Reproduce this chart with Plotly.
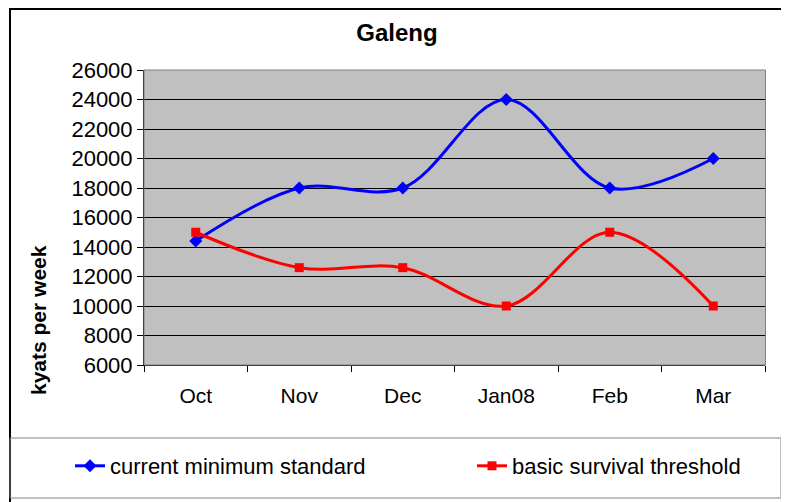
import plotly.graph_objects as go

months = ["Oct", "Nov", "Dec", "Jan08", "Feb", "Mar"]
current_min = [14400, 18000, 18000, 24000, 18000, 20000]
survival = [15000, 12600, 12600, 10000, 15000, 10000]
y_ticks = list(range(6000, 26001, 2000))

font = "Liberation Sans, Arial, sans-serif"

# page is drawn with the browser's 8px body margin, so work in figure coords
W, H = 781, 494
L, R, T, B = 136, 757, 62, 357  # plot area edges inside the figure

fig = go.Figure()
fig.add_trace(go.Scatter(
    x=months, y=current_min, name="current minimum standard", legend="legend",
    mode="lines+markers", line=dict(color="#0000FF", width=3, shape="spline", smoothing=1),
    marker=dict(symbol="diamond", size=10, color="#0000FF"),
))
fig.add_trace(go.Scatter(
    x=months, y=survival, name="basic survival threshold", legend="legend2",
    mode="lines+markers", line=dict(color="#FF0000", width=3, shape="spline", smoothing=1),
    marker=dict(symbol="square", size=9, color="#FF0000"),
))

fig.update_layout(
    width=W, height=H,
    paper_bgcolor="white", plot_bgcolor="#C0C0C0",
    margin=dict(l=L, r=W - R, t=T, b=H - B),
    font=dict(family=font, size=21, color="black"),
    title=dict(text="<b>Galeng</b>", x=389 / W, xref="container", xanchor="center",
               y=1 - 25 / H, yanchor="middle", font=dict(size=24)),
    showlegend=True,
    legend=dict(orientation="h", xref="container", yref="container",
                x=62 / W, y=1 - 458 / H, xanchor="left", yanchor="middle",
                font=dict(size=22), bgcolor="rgba(0,0,0,0)"),
    legend2=dict(orientation="h", xref="container", yref="container",
                 x=464 / W, y=1 - 458 / H, xanchor="left", yanchor="middle",
                 font=dict(size=22), bgcolor="rgba(0,0,0,0)"),
)
fig.update_xaxes(
    type="category", range=[-0.5, 5.5], showgrid=False,
    showline=True, linecolor="black", linewidth=1,
    ticks="outside", tickson="boundaries", ticklen=6, tickcolor="black",
    tickfont=dict(size=21), ticklabelstandoff=12,
)
fig.update_yaxes(
    range=[6000, 26000], tickvals=y_ticks, tickformat="d",
    showgrid=True, gridcolor="black", gridwidth=1,
    showline=True, linecolor="black", linewidth=1,
    ticks="outside", ticklen=6, tickcolor="black", tickfont=dict(size=22),
    zeroline=False,
)

# Excel places the axis title below the middle of the plot area
fig.add_annotation(text="<b>kyats per week</b>", textangle=-90,
                   xref="paper", yref="paper", showarrow=False,
                   x=(30 - L) / (R - L), y=(B - 312) / (B - T),
                   xanchor="center", yanchor="middle", font=dict(size=21))


def px_rect(x0, y0, x1, y1, color, width=1):
    fig.add_shape(type="rect", xref="paper", yref="paper",
                  x0=(x0 - L) / (R - L), x1=(x1 - L) / (R - L),
                  y0=(B - y0) / (B - T), y1=(B - y1) / (B - T),
                  line=dict(color=color, width=width), fillcolor="rgba(0,0,0,0)")


px_rect(L, T, R + 0.5, B, "#808080")
px_rect(2, 1, 776, H + 5, "black", 2)
px_rect(2, 430, 773, 490, "#808080")

fig.write_html("out.html")
